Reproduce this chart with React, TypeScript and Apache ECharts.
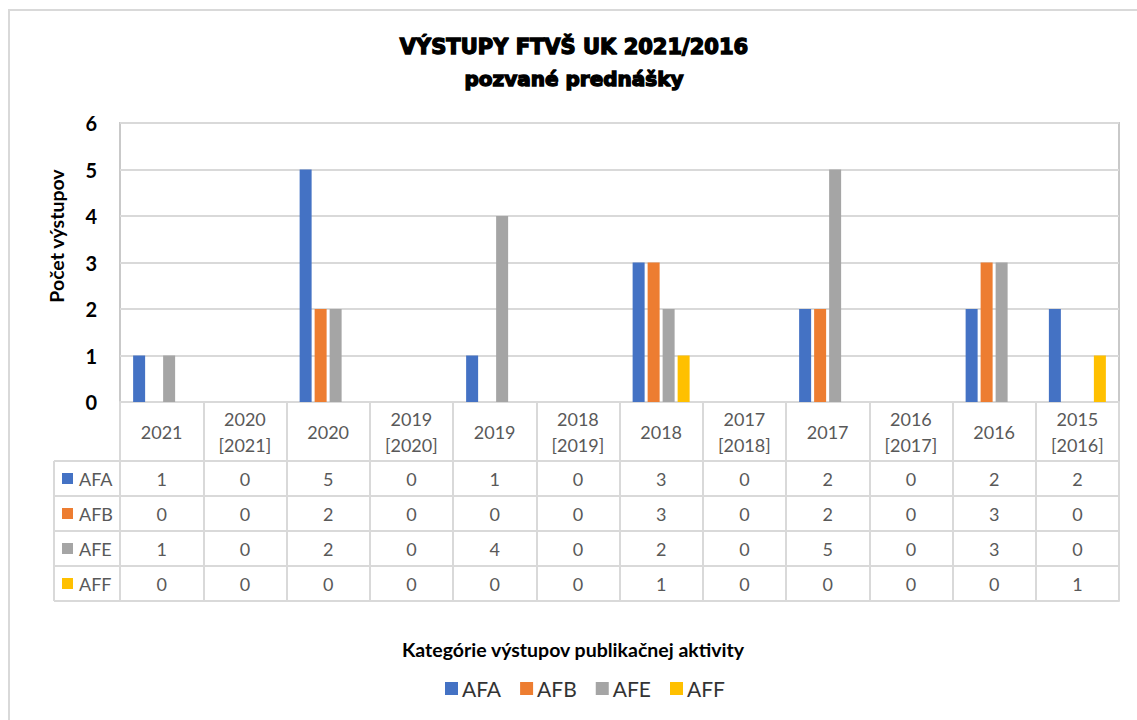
import React, { useEffect, useRef } from "react";
import * as echarts from "echarts";

const CATEGORIES = [
  "2021", "2020\n[2021]", "2020", "2019\n[2020]", "2019", "2018\n[2019]",
  "2018", "2017\n[2018]", "2017", "2016\n[2017]", "2016", "2015\n[2016]",
];
const SERIES_NAMES = ["AFA", "AFB", "AFE", "AFF"];
const AFA = [1, 0, 5, 0, 1, 0, 3, 0, 2, 0, 2, 2];
const AFB = [0, 0, 2, 0, 0, 0, 3, 0, 2, 0, 3, 0];
const AFE = [1, 0, 2, 0, 4, 0, 2, 0, 5, 0, 3, 0];
const AFF = [0, 0, 0, 0, 0, 0, 1, 0, 0, 0, 0, 1];
const Y_TICKS = [0, 1, 2, 3, 4, 5, 6];
const COLORS = ["#4472C4", "#ED7D31", "#A5A5A5", "#FFC000"];
const TITLE_1 = "VÝSTUPY FTVŠ UK 2021/2016";
const TITLE_2 = "pozvané prednášky";
const Y_NAME = "Počet výstupov";
const X_NAME = "Kategórie výstupov publikačnej aktivity";

const FONT = "Lato, 'Noto Sans', sans-serif";
const LINE = "#D9D9D9";
const TXT = "#595959";

export default function App() {
  const ref = useRef<HTMLDivElement>(null);
  useEffect(() => {
    if (!ref.current) return;
    const chart = echarts.init(ref.current, null, { renderer: "svg" });
    const rows = [AFA, AFB, AFE, AFF];
    const gridLeft = 120, gridTop = 123, gridW = 999, gridH = 279;
    const headerH = 59, rowH = 35;
    const bottom = gridTop + gridH;
    const rowAxes = rows.map((r, k) => ({
      type: "category",
      data: CATEGORIES,
      gridIndex: 0,
      position: "bottom",
      offset: headerH + k * rowH,
      axisLine: { show: true, onZero: false, lineStyle: { color: LINE, width: 2 } },
      axisTick: { show: false },
      splitLine: { show: false },
      axisLabel: {
        interval: 0,
        margin: rowH / 2,
        verticalAlign: "middle",
        color: TXT,
        fontFamily: FONT,
        fontSize: 18,
        formatter: (_: string, i: number) => String(r[i]),
      },
    }));
    const tableLeft = 54;
    const leftLines: any[] = [];
    for (let k = 0; k <= rows.length; k++) {
      const y = bottom + headerH + k * rowH;
      leftLines.push({
        type: "line",
        shape: { x1: tableLeft, y1: y, x2: gridLeft, y2: y },
        style: { stroke: LINE, lineWidth: 2 },
      });
    }
    leftLines.push({
      type: "line",
      shape: { x1: tableLeft, y1: bottom + headerH, x2: tableLeft, y2: bottom + headerH + rows.length * rowH },
      style: { stroke: LINE, lineWidth: 2 },
    });

    chart.setOption({
      animation: false,
      backgroundColor: "#fff",
      color: COLORS,
      grid: {
        left: gridLeft, top: gridTop, width: gridW, height: gridH,
        show: true, borderColor: "#C9C9C9", borderWidth: 2,
      },
      legend: [
        {
          data: SERIES_NAMES,
          orient: "vertical",
          left: 62,
          top: bottom + headerH + rowH / 2 - 9,
          padding: 0,
          itemWidth: 11,
          itemHeight: 11,
          itemGap: rowH - 18,
          selectedMode: false,
          icon: "rect",
          textStyle: { color: TXT, fontFamily: FONT, fontSize: 18, lineHeight: 18, padding: [0, 0, 0, 1] },
        },
        {
          data: SERIES_NAMES,
          orient: "horizontal",
          left: 445,
          top: 678,
          padding: 0,
          itemWidth: 13,
          itemHeight: 13,
          itemGap: 19,
          selectedMode: false,
          icon: "rect",
          textStyle: { color: "#333", fontFamily: FONT, fontSize: 21, padding: [0, 0, 0, -1] },
        },
      ],
      xAxis: [
        {
          type: "category",
          data: CATEGORIES,
          gridIndex: 0,
          position: "bottom",
          axisLine: { show: true, onZero: false, lineStyle: { color: LINE, width: 2 } },
          axisTick: {
            show: true, interval: 0, inside: false, length: headerH + rows.length * rowH,
            lineStyle: { color: LINE, width: 2 },
          },
          splitLine: { show: false },
          axisLabel: {
            interval: 0,
            margin: 30,
            verticalAlign: "middle",
            color: TXT,
            fontFamily: FONT,
            fontSize: 18,
            lineHeight: 26,
          },
        },
        ...rowAxes,
        {
          type: "category",
          data: CATEGORIES,
          gridIndex: 0,
          position: "bottom",
          offset: headerH + rows.length * rowH,
          axisLine: { show: true, onZero: false, lineStyle: { color: LINE, width: 2 } },
          axisTick: { show: false },
          axisLabel: { show: false },
          splitLine: { show: false },
        },
      ],
      yAxis: {
        type: "value",
        min: Y_TICKS[0],
        max: Y_TICKS[Y_TICKS.length - 1],
        interval: 1,
        axisLine: { show: false },
        axisTick: { show: false },
        splitLine: { lineStyle: { color: LINE, width: 2 } },
        axisLabel: {
          margin: 23,
          color: "#000",
          fontFamily: FONT,
          fontWeight: "bold",
          fontSize: 20,
        },
      },
      series: rows.map((r, k) => ({
        name: SERIES_NAMES[k],
        type: "bar",
        xAxisIndex: 0,
        data: r,
        barWidth: 12,
        barGap: "25%",
        itemStyle: { color: COLORS[k] },
      })),
      graphic: [
        {
          type: "rect",
          shape: { x: 9, y: 10, width: 1200, height: 800 },
          style: { fill: "none", stroke: LINE, lineWidth: 2 },
          silent: true,
        },
        ...leftLines,
        {
          type: "text",
          x: 574, y: 47,
          style: {
            text: TITLE_1, textAlign: "center", textVerticalAlign: "middle",
            font: "bold 21px 'DejaVu Sans', sans-serif", fill: "#000",
            stroke: "#000", lineWidth: 1.4,
          },
        },
        {
          type: "text",
          x: 574, y: 79,
          style: {
            text: TITLE_2, textAlign: "center", textVerticalAlign: "middle",
            font: "bold 20px 'DejaVu Sans', sans-serif", fill: "#000",
            stroke: "#000", lineWidth: 1.4,
          },
        },
        {
          type: "text",
          x: 56, y: 236,
          rotation: Math.PI / 2,
          style: {
            text: Y_NAME, textAlign: "center", textVerticalAlign: "middle",
            font: `bold 19.5px ${FONT}`, fill: "#000",
          },
        },
        {
          type: "text",
          x: 573, y: 649,
          style: {
            text: X_NAME, textAlign: "center", textVerticalAlign: "middle",
            font: `bold 19.5px ${FONT}`, fill: "#000",
          },
        },
      ],
    });
    return () => chart.dispose();
  }, []);
  return (
    <div
      ref={ref}
      style={{ position: "absolute", left: 0, top: 0, width: 1137, height: 720 }}
    />
  );
}
